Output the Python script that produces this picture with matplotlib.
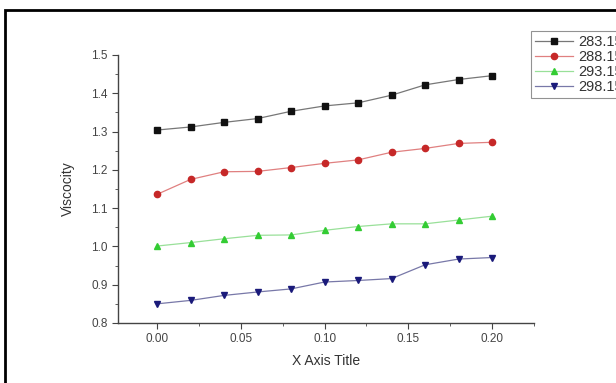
import matplotlib.pyplot as plt
from matplotlib.patches import Rectangle
from matplotlib.ticker import MultipleLocator

plt.rcParams['font.family'] = ['Liberation Sans', 'DejaVu Sans']

# mole fraction (x axis) and viscosity at each temperature
x = [0.00, 0.02, 0.04, 0.06, 0.08, 0.10, 0.12, 0.14, 0.16, 0.18, 0.20]
v283 = [1.304, 1.312, 1.324, 1.334, 1.353, 1.367, 1.375, 1.395, 1.422, 1.436, 1.446]
v288 = [1.136, 1.175, 1.195, 1.196, 1.206, 1.217, 1.226, 1.246, 1.256, 1.269, 1.272]
v293 = [1.001, 1.010, 1.020, 1.029, 1.030, 1.042, 1.052, 1.059, 1.059, 1.069, 1.079]
v298 = [0.850, 0.859, 0.872, 0.881, 0.889, 0.907, 0.911, 0.916, 0.952, 0.967, 0.971]
labels = ['283.15', '288.15', '293.15', '298.15']

fig = plt.figure(figsize=(6.16, 3.83), dpi=100)
ax = fig.add_axes([0.1916, 0.1567, 0.6753, 0.6997])

# series: (values, marker, marker colour, line colour)
series = [
    (v283, 's', '#111111', '#777777'),
    (v288, 'o', '#c62828', '#e08080'),
    (v293, '^', '#33cc33', '#99e099'),
    (v298, 'v', '#1a1a7a', '#7878a8'),
]
for (vals, m, mc, lc), lab in zip(series, labels):
    ax.plot(x, vals, color=lc, lw=0.9, marker=m, markersize=4.5,
            markerfacecolor=mc, markeredgecolor=mc, label=lab)

ax.set_xlim(-0.0233, 0.225)
ax.set_ylim(0.8, 1.5)
ax.xaxis.set_major_locator(MultipleLocator(0.05))
ax.xaxis.set_minor_locator(MultipleLocator(0.025))
ax.yaxis.set_major_locator(MultipleLocator(0.1))
ax.yaxis.set_minor_locator(MultipleLocator(0.05))
ax.xaxis.set_major_formatter(lambda v, p: f'{v:.2f}')
ax.yaxis.set_major_formatter(lambda v, p: f'{v:.1f}')

for s in ['top', 'right']:
    ax.spines[s].set_visible(False)
for s in ['left', 'bottom']:
    ax.spines[s].set_color('#444444')
    ax.spines[s].set_linewidth(1.0)

ax.tick_params(which='major', direction='out', length=4, width=0.8,
               colors='#444444', labelsize=8.5, labelcolor='#444444')
ax.tick_params(which='minor', direction='out', length=2, width=0.6,
               colors='#444444')

ax.set_xlabel('X Axis Title', fontsize=10, color='#333333', labelpad=6)
ax.set_ylabel('Viscocity', fontsize=10, color='#333333', labelpad=12)

leg = ax.legend(loc='upper left', bbox_to_anchor=(531 / 616, 1 - 31 / 383),
                bbox_transform=fig.transFigure, fontsize=10.5, frameon=True,
                fancybox=False, borderpad=0.25, labelspacing=0.08,
                handlelength=2.6, handletextpad=0.4, borderaxespad=0)
leg.get_frame().set_edgecolor('#777777')
leg.get_frame().set_linewidth(0.8)
for t in leg.get_texts():
    t.set_color('#333333')

# outer black frame of the picture (right and bottom edges are cut off)
fig.patches.append(Rectangle((5 / 616, -0.05), 1.2, 1 - 10 / 383 + 0.05,
                             transform=fig.transFigure, fill=False,
                             edgecolor='black', linewidth=2))

fig.savefig('out.png', dpi=100)
